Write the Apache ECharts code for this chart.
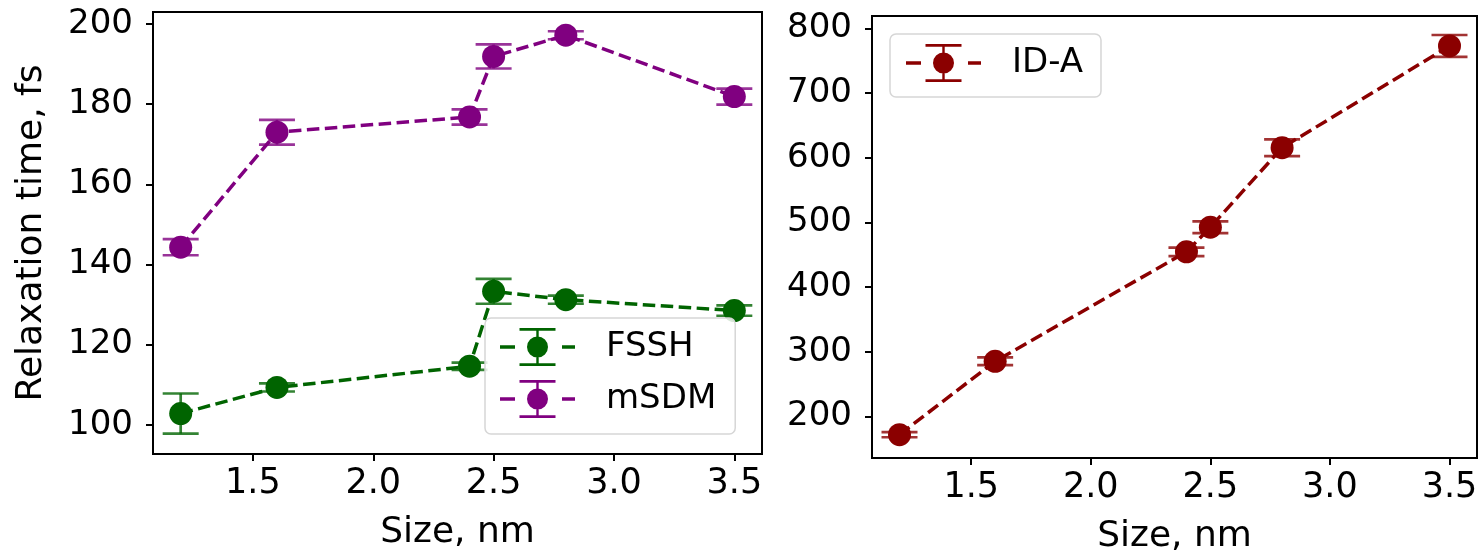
<!DOCTYPE html>
<html>
<head>
<meta charset="utf-8">
<script src="https://cdn.jsdelivr.net/npm/echarts@6/dist/echarts.min.js"></script>
<style>
html,body{margin:0;padding:0;background:#fff;}
#chart{width:1481px;height:552px;}
</style>
</head>
<body>
<div id="chart"></div>
<script>
// ---- data ----
const sizes = [1.2, 1.6, 2.4, 2.5, 2.8, 3.5];
const fsshTime = [102.8, 109.3, 114.6, 133.3, 131.2, 128.5];
const fsshErr = [5.0, 1.0, 0.9, 3.1, 1.0, 1.3];
const msdmTime = [144.3, 173.0, 176.8, 191.9, 197.2, 181.9];
const msdmErr = [2.0, 3.1, 1.9, 3.0, 1.0, 2.0];
const idaTime = [171.7, 285.2, 454.6, 492.7, 615.7, 773.1];
const idaErr = [4, 6, 6.5, 9, 13, 17];
const xTicks = [1.5, 2.0, 2.5, 3.0, 3.5];
const leftYTicks = [100, 120, 140, 160, 180, 200];
const rightYTicks = [200, 300, 400, 500, 600, 700, 800];

const FONT = 'DejaVu Sans';
const C_FSSH = '#006400', C_MSDM = '#800080', C_IDA = '#8b0000';

// legend icon: dashed line + circle + error bar, in a 75x38 box
const legendIcon = 'path://' +
  'M0,17.3H15V20.7H0Z ' +
  'M62,17.3H75V20.7H62Z ' +
  'M19.5,0H55.5V2.8H19.5Z ' +
  'M19.5,35.2H55.5V38H19.5Z ' +
  'M36.3,0H38.7V38H36.3Z ' +
  'M27,19A10.5,10.5 0 1,1 48,19A10.5,10.5 0 1,1 27,19Z';

function errData(vals, errs) {
  return sizes.map((s, i) => [s, vals[i] - errs[i], vals[i] + errs[i]]);
}
function lineData(vals) {
  return sizes.map((s, i) => [s, vals[i]]);
}
function errSeries(name, vals, errs, color, axisIdx) {
  return {
    type: 'custom',
    name: name,
    xAxisIndex: axisIdx, yAxisIndex: axisIdx,
    z: 2,
    silent: true,
    itemStyle: { color: color },
    data: errData(vals, errs),
    encode: { x: 0, y: [1, 2] },
    renderItem: function (params, api) {
      const x = api.value(0);
      const lo = api.coord([x, api.value(1)]);
      const hi = api.coord([x, api.value(2)]);
      const hw = 18;
      const st = { stroke: color, lineWidth: 2.7, opacity: 0.8 };
      return {
        type: 'group',
        children: [
          { type: 'line', shape: { x1: lo[0], y1: lo[1], x2: hi[0], y2: hi[1] }, style: st },
          { type: 'line', shape: { x1: lo[0] - hw, y1: lo[1], x2: lo[0] + hw, y2: lo[1] }, style: st },
          { type: 'line', shape: { x1: hi[0] - hw, y1: hi[1], x2: hi[0] + hw, y2: hi[1] }, style: st }
        ]
      };
    }
  };
}
function mainSeries(name, vals, color, axisIdx) {
  return {
    type: 'line',
    name: name,
    xAxisIndex: axisIdx, yAxisIndex: axisIdx,
    z: 3,
    data: lineData(vals),
    symbol: 'circle',
    symbolSize: 23,
    itemStyle: { color: color },
    lineStyle: { color: color, width: 3.5, type: [12.5, 5.5] },
    emphasis: { disabled: true },
    animation: false
  };
}

function xAxis(gridIndex) {
  return {
    type: 'value', gridIndex: gridIndex,
    min: 1.085, max: 3.615,
    name: 'Size, nm', nameLocation: 'middle', nameGap: 61,
    nameTextStyle: { fontFamily: FONT, fontSize: 36, color: '#000' },
    axisLine: { show: true, lineStyle: { color: '#000', width: 2 } },
    axisTick: { show: true, length: 7, inside: false, lineStyle: { color: '#000', width: 2 }, customValues: xTicks },
    axisLabel: { fontFamily: FONT, fontSize: 35, color: '#000', margin: 12, customValues: xTicks,
      formatter: v => Number(v).toFixed(1) },
    splitLine: { show: false }
  };
}
function yAxis(gridIndex, min, max, ticks, name) {
  return {
    type: 'value', gridIndex: gridIndex,
    min: min, max: max,
    name: name, nameLocation: 'middle', nameGap: 103,
    nameTextStyle: { fontFamily: FONT, fontSize: 36, color: '#000' },
    axisLine: { show: true, lineStyle: { color: '#000', width: 2 } },
    axisTick: { show: true, length: 7, inside: false, lineStyle: { color: '#000', width: 2 }, customValues: ticks },
    axisLabel: { fontFamily: FONT, fontSize: 34, color: '#000', margin: 20, customValues: ticks },
    splitLine: { show: false }
  };
}

const legendCommon = {
  orient: 'vertical',
  itemWidth: 75, itemHeight: 38, itemGap: 14,
  borderColor: '#d6d6d6', borderWidth: 1.5, borderRadius: 6,
  backgroundColor: 'rgba(255,255,255,0.85)',
  selectedMode: false,
  textStyle: { fontFamily: FONT, fontSize: 34, color: '#000', padding: [0, 0, 0, 26], lineHeight: 38 }
};

const chart = echarts.init(document.getElementById('chart'), null, { renderer: 'canvas' });
chart.setOption({
  backgroundColor: '#fff',
  animation: false,
  grid: [
    { left: 153, right: 719, top: 12, bottom: 98, show: true, borderColor: '#000', borderWidth: 2, containLabel: false, outerBoundsMode: 'none' },
    { left: 872, right: 4, top: 16, bottom: 94, show: true, borderColor: '#000', borderWidth: 2, containLabel: false, outerBoundsMode: 'none' }
  ],
  xAxis: [xAxis(0), xAxis(1)],
  yAxis: [
    yAxis(0, 92.7, 203, leftYTicks, 'Relaxation time, fs'),
    yAxis(1, 135.6, 819.5, rightYTicks, '')
  ],
  legend: [
    Object.assign({}, legendCommon, {
      left: 485, top: 318, padding: [10, 19, 16, 15],
      data: [{ name: 'FSSH', icon: legendIcon }, { name: 'mSDM', icon: legendIcon }]
    }),
    Object.assign({}, legendCommon, {
      left: 890, top: 34, padding: [10, 18, 15, 16],
      data: [{ name: 'ID-A', icon: legendIcon }]
    })
  ],
  series: [
    errSeries('FSSH', fsshTime, fsshErr, C_FSSH, 0),
    mainSeries('FSSH', fsshTime, C_FSSH, 0),
    errSeries('mSDM', msdmTime, msdmErr, C_MSDM, 0),
    mainSeries('mSDM', msdmTime, C_MSDM, 0),
    errSeries('ID-A', idaTime, idaErr, C_IDA, 1),
    mainSeries('ID-A', idaTime, C_IDA, 1)
  ]
});
</script>
</body>
</html>
